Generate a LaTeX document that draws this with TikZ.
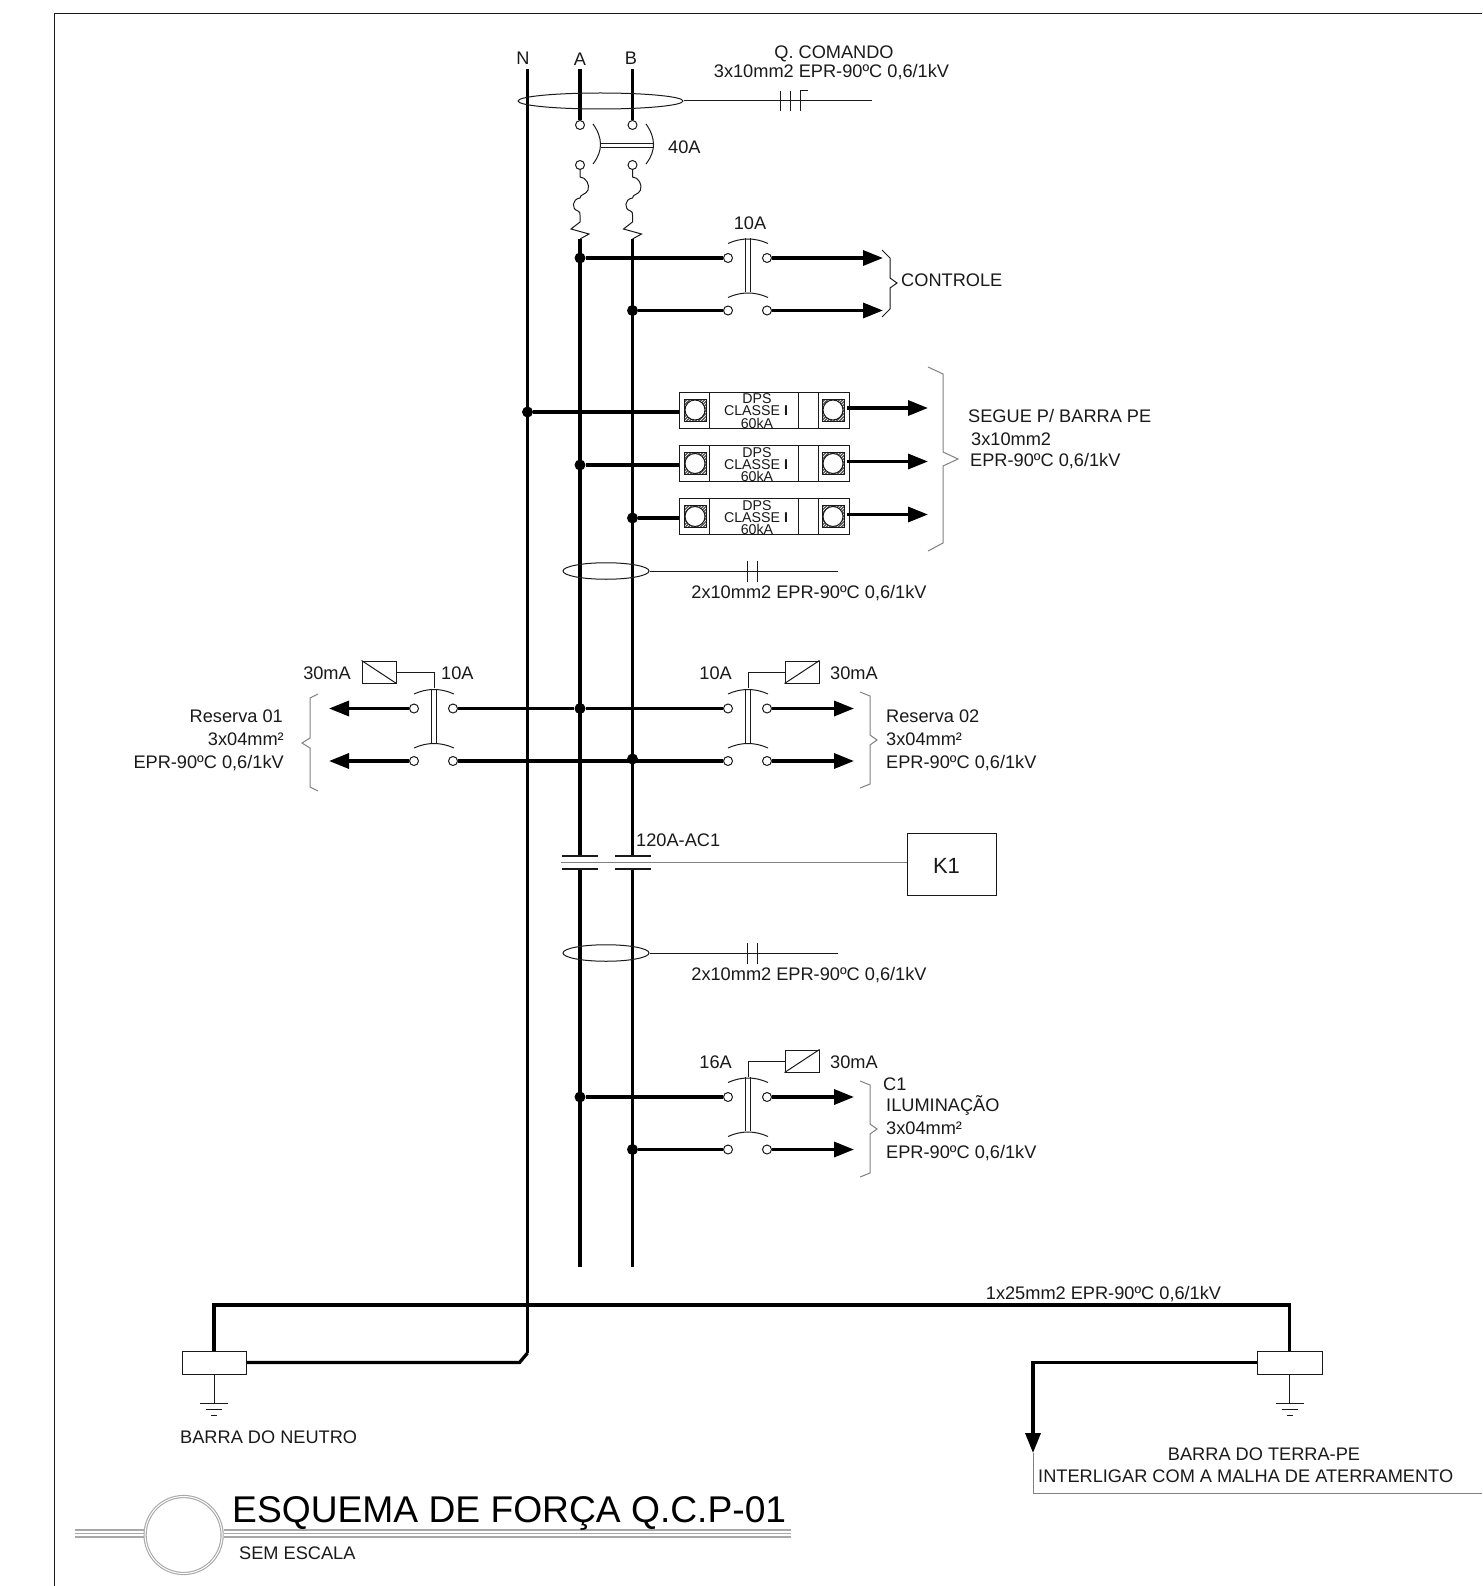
\documentclass[tikz,border=0pt]{standalone}
\usepackage{fontspec}
\setmainfont{Liberation Sans}
\usetikzlibrary{arrows.meta,shapes.geometric,patterns,calc}
\definecolor{ink}{HTML}{1A1A1A}
\definecolor{soft}{HTML}{808080}
\definecolor{pale}{HTML}{A8A8A8}
\newcommand{\fnt}{\fontsize{18.2}{21}\selectfont}
\tikzset{
  x=1pt,y=-1pt,
  bus/.style={line width=3.3pt,draw=black},
  feed/.style={line width=3.3pt,draw=black,-{Triangle[length=20pt,width=15pt]}},
  thin line/.style={line width=1pt,draw=ink},
  soft line/.style={line width=1pt,draw=soft},
  pale line/.style={line width=1.1pt,draw=pale},
  dotnode/.style={circle,fill=black,draw=none,minimum size=11pt,inner sep=0pt},
  term/.style={circle,draw=ink,line width=1pt,fill=white,minimum size=9pt,inner sep=0pt},
  lbl/.style={inner sep=0pt,font=\fnt,text=ink},
  small/.style={inner sep=0pt,font=\fontsize{14.2}{15}\selectfont,text=ink},
  cable/.style={ellipse,draw=ink,line width=1pt,inner sep=0pt},
  dpsbox/.style={rectangle,draw=ink,line width=1pt,inner sep=0pt,minimum width=170pt,minimum height=36pt},
  relaybox/.style={rectangle,draw=ink,line width=1pt,inner sep=0pt,minimum width=34pt,minimum height=22pt},
  barbox/.style={rectangle,draw=ink,line width=1pt,inner sep=0pt,minimum width=64pt,minimum height=23pt},
  cbk/.pic={
    \coordinate (t) at (0,0);
    \node[term] (a) at (-20,20.5) {};
    \node[term] (b) at (19,20.5) {};
    \node[term] (c) at (-20,73) {};
    \node[term] (d) at (19,73) {};
    \draw[thin line] (-20,6) .. controls (-7,0) and (7,0) .. (20,6);
    \draw[thin line] (-20,60) .. controls (-7,54) and (7,54) .. (20,60);
    \draw[thin line] (-2.3,0.5) -- (-2.3,54.5) (2.3,0.5) -- (2.3,54.5);
  },
  coil/.pic={
    \draw[thin line] (0,0) -- (0,8) .. controls (6,8) and (10,16) .. (8,21)
      .. controls (6,26) and (0,25) .. (0,29) .. controls (-8,30) and (-9,40) .. (-2,42)
      .. controls (0,43) and (0,44) .. (0,46) -- (0,53) -- (-9,60) -- (9,65) -- (0,70);
  },
  earth/.pic={
    \draw[thin line] (-14,0) -- (14,0) (-8,6) -- (8,6) (-3,12) -- (3,12);
  },
  dpscell/.pic={
    \fill[fill=black!68] (-11,-11) rectangle (11,11);
    \fill[pattern=north east lines,pattern color=white] (-11,-11) rectangle (11,11);
    \draw[ink,line width=.8pt] (-11,-11) rectangle (11,11);
    \fill[white] (0,0) circle (10);
    \draw[ink,line width=1pt] (0,0) circle (10);
  },
}
\begin{document}
\begin{tikzpicture}
\useasboundingbox (0,0) rectangle (1482,1586);
\fill[white] (0,0) rectangle (1482,1586);
% frame
\coordinate (fa) at (1482,14); \coordinate (fb) at (54,14); \coordinate (fc) at (54,1586);
\draw[thin line] (fa) -- (fb) -- (fc);

% bus coordinates
\coordinate (Ntop) at (527.5,69);
\coordinate (Nknee) at (527.5,1353);
\coordinate (Atop) at (580,69);
\coordinate (Btop) at (632.5,69);
\coordinate (Amid) at (580,239);
\coordinate (Bmid) at (632.5,239);
\coordinate (Acu) at (580,856);
\coordinate (Bcu) at (632.5,856);
\coordinate (Acl) at (580,869);
\coordinate (Bcl) at (632.5,869);
\coordinate (Aend) at (580,1267);
\coordinate (Bend) at (632.5,1267);

% top terminals and main breaker
\node[term] (mA1) at (580,125) {};
\node[term] (mB1) at (632.5,125) {};
\node[term] (mA2) at (580,165) {};
\node[term] (mB2) at (632.5,165) {};
\draw[bus] (Ntop) -- (Nknee);
\draw[bus] (Atop) -- (mA1);
\draw[bus] (Btop) -- (mB1);
\draw[bus] (Amid) -- (Acu) (Acl) -- (Aend);
\draw[bus] (Bmid) -- (Bcu) (Bcl) -- (Bend);
\draw[thin line] (593,124) .. controls (603,138) and (603,151) .. (593,164);
\draw[thin line] (646,124) .. controls (656,138) and (656,151) .. (646,164);
\draw[thin line] (601,143.3) -- (653.5,143.3) (601,147.3) -- (653.5,147.3);
\pic at (580,169) {coil};
\pic at (632.5,169) {coil};

% labels top
\node[lbl] (lN) at (523,58) {N};
\node[lbl] (lA) at (580,59) {A};
\node[lbl] (lB) at (631,58) {B};
\node[lbl] (qc) at (834,53.5) {Q. COMANDO};
\node[lbl] (qc2) at (831.5,72) {3x10mm2 EPR-90ºC 0,6/1kV};
\node[lbl,anchor=west] (l40) at (668,147) {40A};

% top cable ellipse
\node[cable,minimum width=165pt,minimum height=16pt] (e1) at (600.5,101) {};
\coordinate (e1end) at (872,101);
\draw[thin line] (e1) -- (e1end);
\draw[thin line] (780,91) -- (780,111) (790,91) -- (790,111) (800.5,111) -- (800.5,91) -- (808,91);

% controle
\pic (k) at (748,237.5) {cbk};
\node[dotnode] (j1) at (580,258) {};
\node[dotnode] (j2) at (632.5,310.5) {};
\coordinate (k1e) at (883,258);
\coordinate (k2e) at (883,310.5);
\draw[bus] (j1) -- (ka);
\draw[bus] (j2) -- (kc);
\draw[feed] (kb) -- (k1e);
\draw[feed] (kd) -- (k2e);
\node[lbl] (l10a) at (750,223) {10A};
\draw[thin line] (882,250) -- (890,258) -- (890,278) -- (897,283) -- (890,288) -- (890,309) -- (882,317);
\node[lbl,anchor=west] (lctl) at (901,280) {CONTROLE};

% DPS
\foreach \n/\yb/\jx/\dy in {1/410/527.5/412,2/463.5/580/465,3/516.5/632.5/518}{
  \node[dpsbox] (dps\n) at (764,\yb) {};
  \draw[thin line] (709,\yb-18) -- (709,\yb+18) (798,\yb-18) -- (798,\yb+18) (818,\yb-18) -- (818,\yb+18);
  \pic at (695,\yb) {dpscell};
  \pic at (833,\yb) {dpscell};
  \node[small] (dt\n) at (757,\yb-11) {DPS};
  \node[small] (dc\n) at (756,\yb+1) {CLASSE \textbf{I}};
  \node[small] (dk\n) at (757,\yb+13) {60kA};
  \node[dotnode] (jd\n) at (\jx,\dy) {};
  \draw[bus] (jd\n) -- (jd\n -| dps\n.west);
  \coordinate (ds\n) at (847,\yb-2);
  \coordinate (de\n) at (928,\yb-2);
  \draw[feed] (ds\n) -- (de\n);
}
\draw[soft line] (928,367) -- (943,374) -- (943,452) -- (958,459) -- (943,466) -- (943,543) -- (928,551);
\node[lbl,anchor=west] (s1) at (968,416) {SEGUE P/ BARRA PE};
\node[lbl,anchor=west] (s2) at (971,439) {3x10mm2};
\node[lbl,anchor=west] (s3) at (970,461.5) {EPR-90ºC 0,6/1kV};

% cable 2
\node[cable,minimum width=86pt,minimum height=16.5pt] (e2) at (606,571) {};
\coordinate (e2end) at (838,571);
\draw[thin line] (e2) -- (e2end);
\draw[thin line] (747,561) -- (747,582) (757,561) -- (757,582);
\node[lbl] (c2t) at (809,593) {2x10mm2 EPR-90ºC 0,6/1kV};

% reserve breakers
\pic (rl) at (434,688) {cbk};
\pic (rr) at (748,688) {cbk};
\node[dotnode] (ja) at (580,708.5) {};
\node[dotnode] (jb) at (632.5,759) {};
\draw[bus] (rlb) -- (ja) -- (rra);
\draw[bus] (rld) -- (rrc);
\coordinate (rl1e) at (329,708.5);
\coordinate (rl2e) at (329,761);
\coordinate (rr1e) at (854,708.5);
\coordinate (rr2e) at (854,761);
\draw[feed] (rla) -- (rl1e);
\draw[feed] (rlc) -- (rl2e);
\draw[feed] (rrb) -- (rr1e);
\draw[feed] (rrd) -- (rr2e);
% relays
\node[relaybox] (rel1) at (379,672) {};
\draw[thin line] (rel1.north west) -- (rel1.south east);
\draw[thin line] (rlt) |- (rel1.east);
\node[relaybox] (rel2) at (802,672) {};
\draw[thin line] (rel2.south west) -- (rel2.north east);
\draw[thin line] (rrt) |- (rel2.west);
\node[lbl,anchor=east] (m1) at (351,673) {30mA};
\node[lbl,anchor=west] (a1) at (441,673) {10A};
\node[lbl,anchor=east] (a2) at (732,673) {10A};
\node[lbl,anchor=west] (m2) at (830,673.5) {30mA};
\draw[soft line] (318,694) -- (310,698) -- (310,738) -- (302,743) -- (310,748) -- (310,787) -- (318,791);
\draw[soft line] (860,692) -- (870,696) -- (870,735) -- (877,740) -- (870,745) -- (870,784) -- (860,788);
\node[lbl,anchor=east] (r01a) at (283,716) {Reserva 01};
\node[lbl,anchor=east] (r01b) at (284,739) {3x04mm²};
\node[lbl,anchor=east] (r01c) at (284,763) {EPR-90ºC 0,6/1kV};
\node[lbl,anchor=west] (r02a) at (886,716) {Reserva 02};
\node[lbl,anchor=west] (r02b) at (886,739) {3x04mm²};
\node[lbl,anchor=west] (r02c) at (886,763) {EPR-90ºC 0,6/1kV};

% contactor
\node[rectangle,draw=ink,line width=1pt,minimum width=89pt,minimum height=62pt,inner sep=0pt] (K1) at (952,864) {};
\node[inner sep=0pt,font=\fontsize{22}{24}\selectfont,text=ink] (K1t) at (946.5,866) {K1};
\coordinate (cstart) at (561,862);
\draw[soft line] (cstart) -- (cstart -| K1.west);
\draw[line width=1.1pt,draw=ink] (562,856) -- (598,856) (562,869) -- (598,869) (615,856) -- (651,856) (615,869) -- (651,869);
\node[lbl,anchor=west] (l120) at (636,840.5) {120A-AC1};

% cable 3
\node[cable,minimum width=86pt,minimum height=16.5pt] (e3) at (606,953) {};
\coordinate (e3end) at (838,953);
\draw[thin line] (e3) -- (e3end);
\draw[thin line] (747,943) -- (747,964) (757,943) -- (757,964);
\node[lbl] (c3t) at (809,975) {2x10mm2 EPR-90ºC 0,6/1kV};

% C1 breaker
\pic (cb) at (748,1076.5) {cbk};
\node[dotnode] (jc) at (580,1097) {};
\node[dotnode] (jd) at (632.5,1149.5) {};
\draw[bus] (jc) -- (cba);
\draw[bus] (jd) -- (cbc);
\coordinate (cb1e) at (854,1097);
\coordinate (cb2e) at (854,1149.5);
\draw[feed] (cbb) -- (cb1e);
\draw[feed] (cbd) -- (cb2e);
\node[relaybox] (rel3) at (802,1061) {};
\draw[thin line] (rel3.south west) -- (rel3.north east);
\draw[thin line] (cbt) |- (rel3.west);
\node[lbl,anchor=east] (a3) at (732,1062) {16A};
\node[lbl,anchor=west] (m3) at (830,1062.5) {30mA};
\draw[soft line] (860,1081) -- (870,1085) -- (870,1124) -- (877,1129) -- (870,1134) -- (870,1173) -- (860,1177);
\node[lbl,anchor=west] (c1a) at (883,1084.5) {C1};
\node[lbl,anchor=west] (c1b) at (886,1105) {ILUMINAÇÃO};
\node[lbl,anchor=west] (c1c) at (886,1128) {3x04mm²};
\node[lbl,anchor=west] (c1d) at (886,1153) {EPR-90ºC 0,6/1kV};

% earth bars
\node[barbox] (bn) at (214,1362.5) {};
\node[barbox,minimum width=65pt] (bt) at (1289.5,1362.5) {};
\coordinate (htl) at (214,1305);
\coordinate (htr) at (1289.5,1305);
\draw[bus] (bn.north) -- (htl) -- (htr) -- (bt.north);
\coordinate (nk2) at (519.5,1362.5);
\draw[bus,line join=miter] (bn.east) -- (nk2) -- (Nknee);
\coordinate (ptk) at (1033,1362.5);
\coordinate (ptt) at (1033,1453);
\draw[feed,line join=miter] (bt.west) -- (ptk) -- (ptt);
\coordinate (ptb) at (1033,1493);
\coordinate (ptr) at (1482,1493);
\draw[soft line] (ptt) -- (ptb) -- (ptr);
\coordinate (gn) at (214,1403);
\coordinate (gt) at (1289.5,1403);
\draw[thin line] (bn.south) -- (gn);
\draw[thin line] (bt.south) -- (gt);
\pic at (gn) {earth};
\pic at (gt) {earth};
\node[lbl,anchor=west] (bnt) at (180,1437) {BARRA DO NEUTRO};
\node[lbl] (btt) at (1264,1454) {BARRA DO TERRA-PE};
\node[lbl,anchor=west] (btm) at (1038,1476) {INTERLIGAR COM A MALHA DE ATERRAMENTO};
\node[lbl] (l25) at (1103.5,1294) {1x25mm2 EPR-90ºC 0,6/1kV};

% title
\node[circle,draw=pale,line width=3.2pt,minimum size=77pt,inner sep=0pt] (tc) at (183.6,1535) {};
\node[circle,draw=white,line width=1pt,minimum size=77pt,inner sep=0pt] (tc2) at (183.6,1535) {};
\foreach \yy in {1530,1533.5,1537}{
  \coordinate (tl) at (74.5,\yy);
  \coordinate (tr) at (790.5,\yy);
  \draw[pale line] (tl) -- (tl -| tc.west) (tl -| tc.east) -- (tr);
}
\node[inner sep=0pt,anchor=base west,font=\fontsize{37.2}{40}\selectfont,text=black] (ttl) at (232,1522) {ESQUEMA DE FORÇA Q.C.P-01};
\node[lbl,anchor=west] (sem) at (239,1553) {SEM ESCALA};
\end{tikzpicture}
\end{document}
